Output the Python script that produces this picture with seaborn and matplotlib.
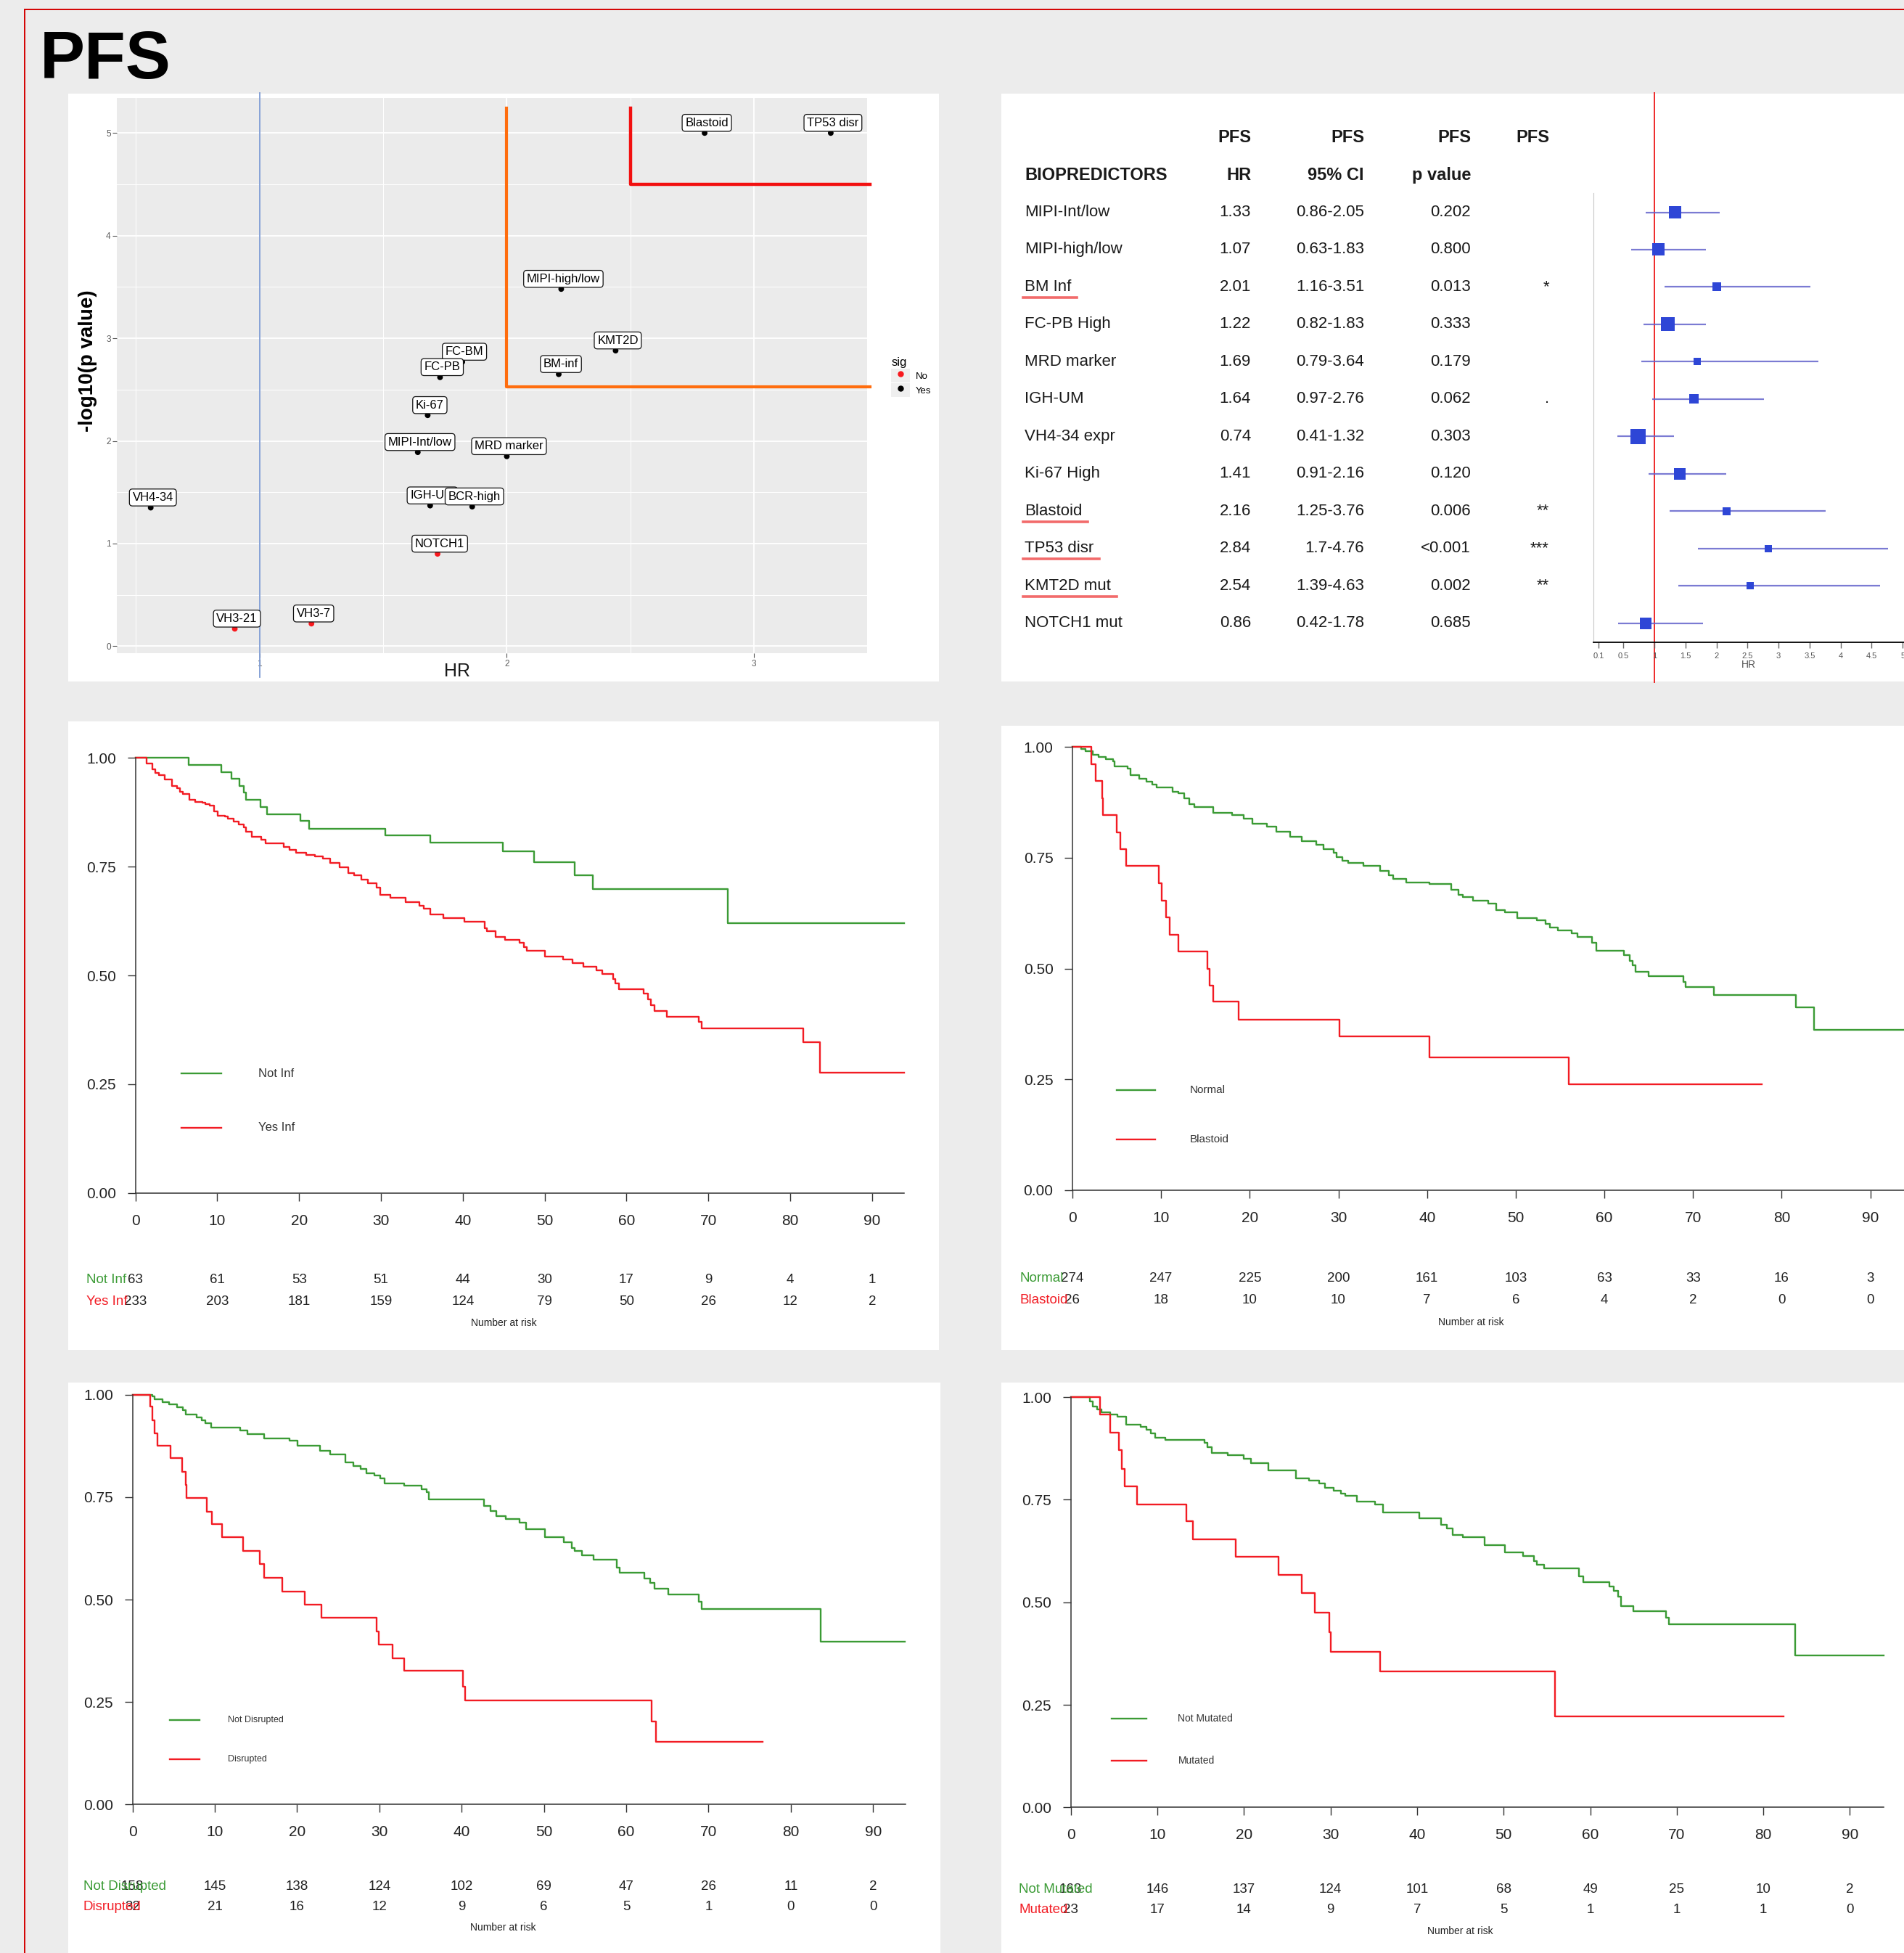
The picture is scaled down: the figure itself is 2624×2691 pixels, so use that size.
import matplotlib
matplotlib.use("Agg")
import matplotlib.pyplot as plt
import matplotlib.transforms as mtransforms
from matplotlib.lines import Line2D
from matplotlib.patches import Rectangle
import pandas as pd
import seaborn as sns

plt.rcParams["font.family"] = ["Liberation Sans", "DejaVu Sans"]

W, H, DPI = 2624, 2691, 100
GREEN = "#3b9b35"
RED = "#f21c24"
INK = "#222222"

# ── Volcano data ───────────────────────────────────────────────────────────
volc_names = ["Blastoid", "TP53 disr", "MIPI-high/low", "KMT2D", "BM-inf", "FC-BM", "FC-PB",
              "Ki-67", "MIPI-Int/low", "MRD marker", "VH4-34", "IGH-UM", "BCR-high",
              "NOTCH1", "VH3-21", "VH3-7"]
volc_hr = [2.80, 3.31, 2.22, 2.44, 2.21, 1.82, 1.73, 1.68, 1.64, 2.00, 0.56, 1.69, 1.86,
           1.72, 0.90, 1.21]
volc_logp = [5.00, 5.00, 3.48, 2.88, 2.65, 2.77, 2.62, 2.25, 1.89, 1.85, 1.35, 1.37, 1.36,
             0.90, 0.17, 0.22]
volc_sig = ["Yes", "Yes", "Yes", "Yes", "Yes", "Yes", "Yes", "Yes", "Yes", "Yes", "Yes",
            "Yes", "Yes", "No", "No", "No"]
sig_levels = ["No", "Yes"]
orange_cut = (2.0, 2.53)   # HR, -log10 p
red_cut = (2.5, 4.5)

# ── Forest table data ──────────────────────────────────────────────────────
fp_names = ["MIPI-Int/low", "MIPI-high/low", "BM Inf", "FC-PB High", "MRD marker", "IGH-UM",
            "VH4-34 expr", "Ki-67 High", "Blastoid", "TP53 disr", "KMT2D mut", "NOTCH1 mut"]
fp_hr = [1.33, 1.07, 2.01, 1.22, 1.69, 1.64, 0.74, 1.41, 2.16, 2.84, 2.54, 0.86]
fp_lo = [0.86, 0.63, 1.16, 0.82, 0.79, 0.97, 0.41, 0.91, 1.25, 1.70, 1.39, 0.42]
fp_hi = [2.05, 1.83, 3.51, 1.83, 3.64, 2.76, 1.32, 2.16, 3.76, 4.76, 4.63, 1.78]
fp_p = ["0.202", "0.800", "0.013", "0.333", "0.179", "0.062", "0.303", "0.120", "0.006",
        "<0.001", "0.002", "0.685"]
fp_stars = ["", "", "*", "", "", ".", "", "", "**", "***", "**", ""]
fp_box = [17, 17, 12, 19, 10, 13, 21, 16, 11, 10, 10, 16]   # box side
fp_underlined = ["BM Inf", "Blastoid", "TP53 disr", "KMT2D mut"]
fp_ticks = [0.1, 0.5, 1, 1.5, 2, 2.5, 3, 3.5, 4, 4.5, 5]

# ── Kaplan-Meier data (step times / survival) ──────────────────────────────
risk_times = [0, 10, 20, 30, 40, 50, 60, 70, 80, 90]

km1_groups = ["Not Inf", "Yes Inf"]
km1_a_t = [0, 6.50, 10.47, 11.70, 12.73, 13.21, 13.55, 15.33, 16.08, 20.19, 21.22, 30.53,
           36.07, 44.90, 48.67, 53.66, 55.92, 72.35, 93.9]
km1_a_s = [1.0, .984, .968, .952, .936, .920, .904, .888, .871, .855, .838, .822, .805, .785,
           .761, .730, .698, .620, .620]
km1_b_t = [0, 1.37, 2.05, 2.40, 2.87, 3.63, 4.45, 5.13, 5.48, 5.82, 6.64, 7.32, 8.21, 8.56,
           9.10, 9.58, 10.06, 10.95, 11.29, 11.98, 12.66, 13.21, 13.48, 14.24, 15.40, 15.95,
           18.14, 18.82, 19.64, 20.88, 21.90, 22.93, 23.82, 24.98, 26.01, 26.69, 27.58, 28.41,
           29.43, 29.91, 31.14, 32.99, 34.70, 35.25, 36.07, 37.65, 40.18, 42.64, 42.92, 44.01,
           45.17, 46.89, 47.43, 47.78, 50.03, 52.22, 53.39, 54.76, 56.33, 57.02, 58.38, 58.66,
           59.07, 62.08, 62.63, 62.97, 63.45, 64.89, 68.79, 69.13, 81.59, 83.64, 93.9]
km1_b_s = [1.0, .988, .974, .966, .960, .950, .936, .930, .922, .918, .904, .899, .897, .894,
           .890, .877, .868, .866, .861, .854, .847, .840, .831, .819, .812, .803, .796, .789,
           .782, .777, .774, .768, .758, .749, .735, .730, .721, .712, .702, .686, .679, .668,
           .660, .653, .641, .632, .623, .609, .602, .588, .582, .576, .566, .557, .543, .537,
           .529, .520, .512, .503, .492, .482, .468, .459, .445, .431, .419, .405, .393, .379,
           .346, .276, .276]
km1_risk_a = [63, 61, 53, 51, 44, 30, 17, 9, 4, 1]
km1_risk_b = [233, 203, 181, 159, 124, 79, 50, 26, 12, 2]

km2_groups = ["Normal", "Blastoid"]
km2_a_t = [0, 0.98, 1.51, 2.29, 2.95, 3.73, 4.58, 4.78, 6.22, 6.54, 7.53, 8.31, 8.97, 9.49,
           11.32, 11.98, 12.63, 13.15, 13.74, 15.90, 18.00, 19.31, 20.29, 21.92, 23.04, 24.54,
           25.85, 27.49, 28.34, 29.45, 29.78, 30.43, 31.09, 32.85, 34.69, 35.67, 36.19, 37.63,
           40.25, 42.73, 43.52, 44.04, 45.16, 46.92, 47.77, 48.76, 50.20, 52.36, 53.34, 53.86,
           54.78, 56.28, 56.94, 58.57, 59.10, 62.17, 62.83, 63.15, 63.55, 64.99, 68.91, 69.17,
           72.32, 81.61, 83.64, 93.8]
km2_a_s = [1.0, .995, .991, .982, .977, .972, .967, .956, .952, .936, .928, .922, .915, .908,
           .899, .896, .885, .871, .864, .851, .846, .839, .827, .821, .809, .798, .787, .779,
           .770, .761, .752, .744, .738, .732, .720, .710, .703, .695, .691, .678, .667, .661,
           .653, .646, .632, .627, .614, .609, .600, .593, .586, .579, .571, .559, .540, .531,
           .517, .508, .493, .483, .469, .458, .441, .412, .361, .361]
km2_b_t = [0, 2.09, 2.62, 3.34, 3.47, 4.97, 5.43, 6.02, 9.75, 10.08, 10.54, 10.93, 11.98,
           15.25, 15.51, 15.90, 18.78, 30.10, 40.31, 55.96, 77.75]
km2_b_s = [1.0, .961, .924, .885, .846, .807, .770, .732, .692, .653, .616, .577, .539, .499,
           .462, .426, .385, .347, .299, .239, .239]
km2_risk_a = [274, 247, 225, 200, 161, 103, 63, 33, 16, 3]
km2_risk_b = [26, 18, 10, 10, 7, 6, 4, 2, 0, 0]

km3_groups = ["Not Disrupted", "Disrupted"]
km3_a_t = [0, 2.38, 2.72, 3.61, 4.42, 5.44, 6.12, 6.46, 7.82, 8.37, 8.84, 9.52, 13.06, 13.95,
           15.99, 19.05, 20.07, 22.79, 24.01, 25.85, 26.87, 27.69, 28.44, 29.39, 30.07, 30.61,
           32.99, 35.17, 35.71, 36.05, 42.72, 43.54, 44.22, 45.37, 47.07, 47.82, 50.14, 52.38,
           53.40, 53.74, 54.63, 55.99, 58.84, 59.18, 62.24, 62.93, 63.47, 65.10, 68.84, 69.18,
           83.67, 93.88]
km3_a_s = [1.0, .996, .989, .982, .976, .970, .962, .951, .945, .937, .931, .920, .912, .904,
           .893, .887, .876, .863, .855, .835, .826, .819, .809, .802, .795, .784, .778, .770,
           .763, .744, .728, .716, .704, .697, .688, .671, .652, .640, .626, .619, .608, .598,
           .578, .565, .552, .540, .527, .513, .495, .477, .398, .398]
km3_b_t = [0, 2.18, 2.38, 2.72, 3.06, 4.63, 5.99, 6.46, 6.60, 9.05, 9.66, 10.88, 13.47, 15.44,
           15.99, 18.16, 20.95, 22.93, 29.66, 29.93, 31.63, 32.99, 40.20, 40.41, 63.06, 63.61,
           76.53]
km3_b_s = [1.0, .971, .937, .906, .876, .845, .812, .779, .748, .715, .685, .652, .619, .586,
           .554, .520, .487, .455, .422, .391, .357, .326, .288, .254, .203, .152, .152]
km3_risk_a = [158, 145, 138, 124, 102, 69, 47, 26, 11, 2]
km3_risk_b = [32, 21, 16, 12, 9, 6, 5, 1, 0, 0]

km4_groups = ["Not Mutated", "Mutated"]
km4_a_t = [0, 2.21, 2.55, 3.08, 3.55, 4.56, 5.43, 6.43, 8.11, 8.71, 9.25, 9.79, 10.92, 15.42,
           15.82, 16.29, 18.16, 19.97, 20.78, 22.86, 26.01, 27.55, 28.69, 29.36, 30.36, 31.17,
           31.70, 33.04, 35.19, 36.06, 40.28, 42.76, 43.43, 44.10, 45.31, 47.79, 50.13, 52.28,
           53.49, 53.82, 54.69, 58.71, 59.18, 62.20, 62.73, 63.20, 63.54, 65.01, 68.77, 69.10,
           83.65, 93.90]
km4_a_s = [1.0, .989, .978, .971, .963, .958, .953, .933, .927, .920, .911, .902, .896, .888,
           .879, .864, .859, .850, .839, .821, .802, .796, .790, .779, .772, .765, .759, .746,
           .739, .719, .704, .689, .680, .665, .658, .640, .622, .612, .601, .592, .582, .563,
           .549, .538, .527, .513, .491, .478, .463, .446, .371, .371]
km4_b_t = [0, 3.42, 4.56, 5.56, 5.90, 6.23, 7.64, 13.40, 14.08, 19.03, 23.99, 26.68, 28.22,
           29.83, 30.03, 35.72, 55.97, 82.31]
km4_b_s = [1.0, .957, .913, .871, .826, .783, .739, .698, .654, .611, .566, .522, .475, .427,
           .379, .332, .222, .222]
km4_risk_a = [163, 146, 137, 124, 101, 68, 49, 25, 10, 2]
km4_risk_b = [23, 17, 14, 9, 7, 5, 1, 1, 1, 0]


# ── Helpers ────────────────────────────────────────────────────────────────

def px_rect(x0, y0, x1, y1):
    """Pixel box (top-left origin) -> figure fraction rect."""
    return [x0 / W, 1 - y1 / H, (x1 - x0) / W, (y1 - y0) / H]


def fy(y):
    return 1 - y / H


fig = plt.figure(figsize=(W / DPI, H / DPI), dpi=DPI)
fig.patch.set_facecolor("#ececec")

# red frame and white panels
fig.add_artist(Rectangle((34 / W, -0.01), 1.2, fy(13) + 0.01, transform=fig.transFigure,
                         fill=False, ec="#d40000", lw=1.4, zorder=-9))
for box in [(94, 129, 1294, 939), (1380, 129, 2624, 939), (94, 994, 1294, 1860),
            (1380, 1000, 2624, 1860), (94, 1905, 1296, 2691), (1380, 1905, 2624, 2691)]:
    r = px_rect(*box)
    fig.add_artist(Rectangle((r[0], r[1]), r[2], r[3], transform=fig.transFigure,
                             fc="white", ec="none", zorder=-8))

fig.text(55 / W, fy(108), "PFS", fontsize=67, fontweight="bold", va="baseline")


# ── 1. Volcano ─────────────────────────────────────────────────────────────
axv = fig.add_axes(px_rect(161, 134.6, 1195, 900.3))
axv.set_facecolor("#ebebeb")
axv.set_axisbelow(True)
sig_colors = {"No": "#f8191e", "Yes": "black"}
volc = pd.DataFrame({"name": volc_names, "HR": volc_hr, "logp": volc_logp, "sig": volc_sig})
sns.scatterplot(data=volc, x="HR", y="logp", hue="sig", hue_order=sig_levels,
                palette=sig_colors, s=32, linewidth=0, ax=axv, zorder=3, legend=False)

x_top = 5.24
axv.plot([orange_cut[0], orange_cut[0], 3.47], [x_top, orange_cut[1], orange_cut[1]],
         color="#ff6d0e", lw=3, clip_on=False, zorder=2)
axv.plot([red_cut[0], red_cut[0], 3.47], [x_top, red_cut[1], red_cut[1]],
         color="#f21010", lw=3.2, clip_on=False, zorder=2)
vtr = mtransforms.blended_transform_factory(axv.transData, fig.transFigure)
axv.plot([1, 1], [fy(128), fy(933)], transform=vtr, color="#7d9bd3", lw=1.3,
         clip_on=False, zorder=2)

for i, row in volc.iterrows():
    axv.annotate(row["name"], (row["HR"], row["logp"]), xytext=(3, 14),
                 textcoords="offset pixels", ha="center", va="center", fontsize=12,
                 zorder=5 + i * 0.01, annotation_clip=False,
                 bbox=dict(boxstyle="round,pad=0.25,rounding_size=0.25", fc="white",
                           ec="#111111", lw=0.9))

axv.set_xlim(0.423, 3.457)
axv.set_ylim(-0.07, 5.344)
axv.set_xticks([1, 2, 3])
axv.set_yticks([0, 1, 2, 3, 4, 5])
axv.set_xticks([0.5, 1.5, 2.5], minor=True)
axv.set_yticks([0.5, 1.5, 2.5, 3.5, 4.5], minor=True)
axv.tick_params(which="major", length=4, width=0.8, color="#555555", labelsize=8.5,
                labelcolor="#5a5a5a", pad=2)
axv.tick_params(which="minor", length=0)
axv.grid(which="major", color="white", lw=1.3)
axv.grid(which="minor", color="white", lw=0.7)
for sp in axv.spines.values():
    sp.set_visible(False)
axv.set_xlabel("")
axv.set_ylabel("")

# ggplot-style legend: grey key squares with the dot on top
key_bg = Rectangle((0, 0), 1, 1, fc="#efefef", ec="none")
handles = [(key_bg, Line2D([], [], ls="", marker="o", markersize=5, color=sig_colors[lv]))
           for lv in sig_levels]
axv.legend(handles=handles, labels=sig_levels, title="sig", loc="center left",
           bbox_to_anchor=(1.026, 0.497), frameon=False, fontsize=9.5, title_fontsize=12,
           handlelength=1.9, handleheight=1.9, labelspacing=0.05, handletextpad=0.6,
           borderpad=0, alignment="left")

fig.text(121 / W, fy(497), "-log10(p value)", rotation=90, ha="center", va="center",
         fontsize=20, fontweight="bold")
fig.text(630 / W, fy(925), "HR", fontsize=18, ha="center", va="center", color="#1a1a1a")


# ── 2. Forest table ────────────────────────────────────────────────────────
axf = fig.add_axes(px_rect(2196, 266, 2624, 885))
axf.set_facecolor("none")
rows = list(range(len(fp_names)))
axf.hlines(rows, fp_lo, fp_hi, color="#6464cc", lw=1.6, alpha=0.85, zorder=2)
axf.scatter(fp_hr, rows, marker="s", s=[(b * 0.72) ** 2 for b in fp_box], color="#2e46d6",
            linewidths=0, zorder=3)
axf.set_xlim(0.019, 5.02)
axf.set_ylim(11.515, -0.516)
axf.set_xticks(fp_ticks)
axf.set_xticklabels([f"{t:g}" for t in fp_ticks])
axf.set_yticks([])
axf.tick_params(axis="x", length=6, width=1, color="#666666", labelsize=8,
                labelcolor="#555555", pad=4)
axf.spines["top"].set_visible(False)
axf.spines["right"].set_visible(False)
axf.spines["left"].set_color("#c8c8c8")
axf.spines["left"].set_linewidth(0.8)
axf.spines["bottom"].set_linewidth(1.3)
axf.set_xlabel("HR", fontsize=10, color="#555555", labelpad=0)
ftr = mtransforms.blended_transform_factory(axf.transData, fig.transFigure)
axf.plot([1, 1], [fy(128), fy(940)], transform=ftr, color="#ee2a2a", lw=1.4,
         clip_on=False, zorder=1)

ttr = mtransforms.blended_transform_factory(fig.transFigure, axf.transData)
col_right = [1724, 1880, 2027, 2135]
for xr in col_right:
    axf.text(xr / W, -2, "PFS", transform=ttr, ha="right", va="center", fontsize=17,
             fontweight="bold", color="#1a1a1a", clip_on=False)
axf.text(1412 / W, -1, "BIOPREDICTORS", transform=ttr, ha="left", va="center", fontsize=17,
         fontweight="bold", color="#1a1a1a", clip_on=False)
for xr, hdr in zip(col_right[:3], ["HR", "95% CI", "p value"]):
    axf.text(xr / W, -1, hdr, transform=ttr, ha="right", va="center", fontsize=17,
             fontweight="bold", color="#1a1a1a", clip_on=False)

renderer = fig.canvas.get_renderer()
for i, name in enumerate(fp_names):
    kw = dict(transform=ttr, va="center", fontsize=16, color="#1a1a1a", clip_on=False)
    t_name = axf.text(1412 / W, i, name, ha="left", **kw)
    axf.text(col_right[0] / W, i, f"{fp_hr[i]:.2f}", ha="right", **kw)
    axf.text(col_right[1] / W, i, f"{fp_lo[i]:g}-{fp_hi[i]:g}", ha="right", **kw)
    axf.text(col_right[2] / W, i, fp_p[i], ha="right", **kw)
    axf.text(col_right[3] / W, i, fp_stars[i], ha="right", **kw)
    if name in fp_underlined:
        bb = t_name.get_window_extent(renderer=renderer)
        y_line = bb.y0 - 4
        fig.add_artist(Line2D([(bb.x0 - 2) / W, (bb.x1 + 8) / W], [y_line / H] * 2,
                              transform=fig.transFigure, color="#f26b6b", lw=2.6))


# ── 3. Kaplan-Meier panels ─────────────────────────────────────────────────

def km_panel(rect, xmax, curves, names, risk, leg_line, leg_ys, leg_x, leg_fs,
             risk_x, risk_ys, nar_y):
    ax = fig.add_axes(px_rect(*rect))
    ax.set_facecolor("none")
    for (t, s), col in zip(curves, (GREEN, RED)):
        sns.lineplot(x=t, y=s, drawstyle="steps-post", color=col, linewidth=1.7,
                     estimator=None, sort=False, ax=ax, clip_on=False)
    ax.set_xlim(0, xmax)
    ax.set_ylim(0, 1)
    ax.set_xticks(risk_times)
    ax.set_yticks([0, 0.25, 0.5, 0.75, 1])
    ax.set_yticklabels(["0.00", "0.25", "0.50", "0.75", "1.00"])
    ax.tick_params(axis="both", labelsize=15, labelcolor=INK, color="#333333", width=1)
    ax.tick_params(axis="x", length=8, pad=13)
    ax.tick_params(axis="y", length=8, pad=11)
    for side in ("top", "right"):
        ax.spines[side].set_visible(False)
    for side in ("left", "bottom"):
        ax.spines[side].set_color("#333333")
        ax.spines[side].set_linewidth(1.1)
    ax.set_xlabel("")
    ax.set_ylabel("")

    # in-plot legend
    for name, col, y in zip(names, (GREEN, RED), leg_ys):
        fig.add_artist(Line2D([leg_line[0] / W, leg_line[1] / W], [fy(y)] * 2,
                              transform=fig.transFigure, color=col, lw=1.7))
        fig.text(leg_x / W, fy(y), name, fontsize=leg_fs, va="center", color="#333333")

    # number at risk table
    rtr = mtransforms.blended_transform_factory(ax.transData, fig.transFigure)
    for name, col, counts, y in zip(names, (GREEN, RED), risk, risk_ys):
        fig.text(risk_x / W, fy(y), name, color=col, fontsize=13.5, va="center")
        for t, n in zip(risk_times, counts):
            ax.text(t, fy(y), str(n), transform=rtr, ha="center", va="center",
                    fontsize=13.5, color=INK, clip_on=False)
    ax.text(45, fy(nar_y), "Number at risk", transform=rtr, ha="center", va="center",
            fontsize=10, color=INK, clip_on=False)
    return ax


km_panel((186.5, 1044.4, 1246, 1643.8), 93.9,
         [(km1_a_t, km1_a_s), (km1_b_t, km1_b_s)], km1_groups, [km1_risk_a, km1_risk_b],
         (250, 304.5), (1479, 1554), 356, 12, 119, (1763, 1793), 1823)
km_panel((1478, 1029.3, 2624, 1639.8), 93.8,
         [(km2_a_t, km2_a_s), (km2_b_t, km2_b_s)], km2_groups, [km2_risk_a, km2_risk_b],
         (1539, 1591.5), (1502, 1570), 1640, 11, 1406, (1762, 1791), 1822)
km_panel((182.6, 1921.7, 1247.5, 2486.3), 93.9,
         [(km3_a_t, km3_a_s), (km3_b_t, km3_b_s)], km3_groups, [km3_risk_a, km3_risk_b],
         (233.5, 275), (2370, 2424), 314, 9, 115, (2599, 2627), 2656)
km_panel((1475.6, 1925.2, 2596, 2490.3), 93.9,
         [(km4_a_t, km4_a_s), (km4_b_t, km4_b_s)], km4_groups, [km4_risk_a, km4_risk_b],
         (1532, 1580), (2368, 2426), 1623.5, 10, 1404, (2603, 2632), 2661)

fig.savefig("out.png", dpi=DPI)
